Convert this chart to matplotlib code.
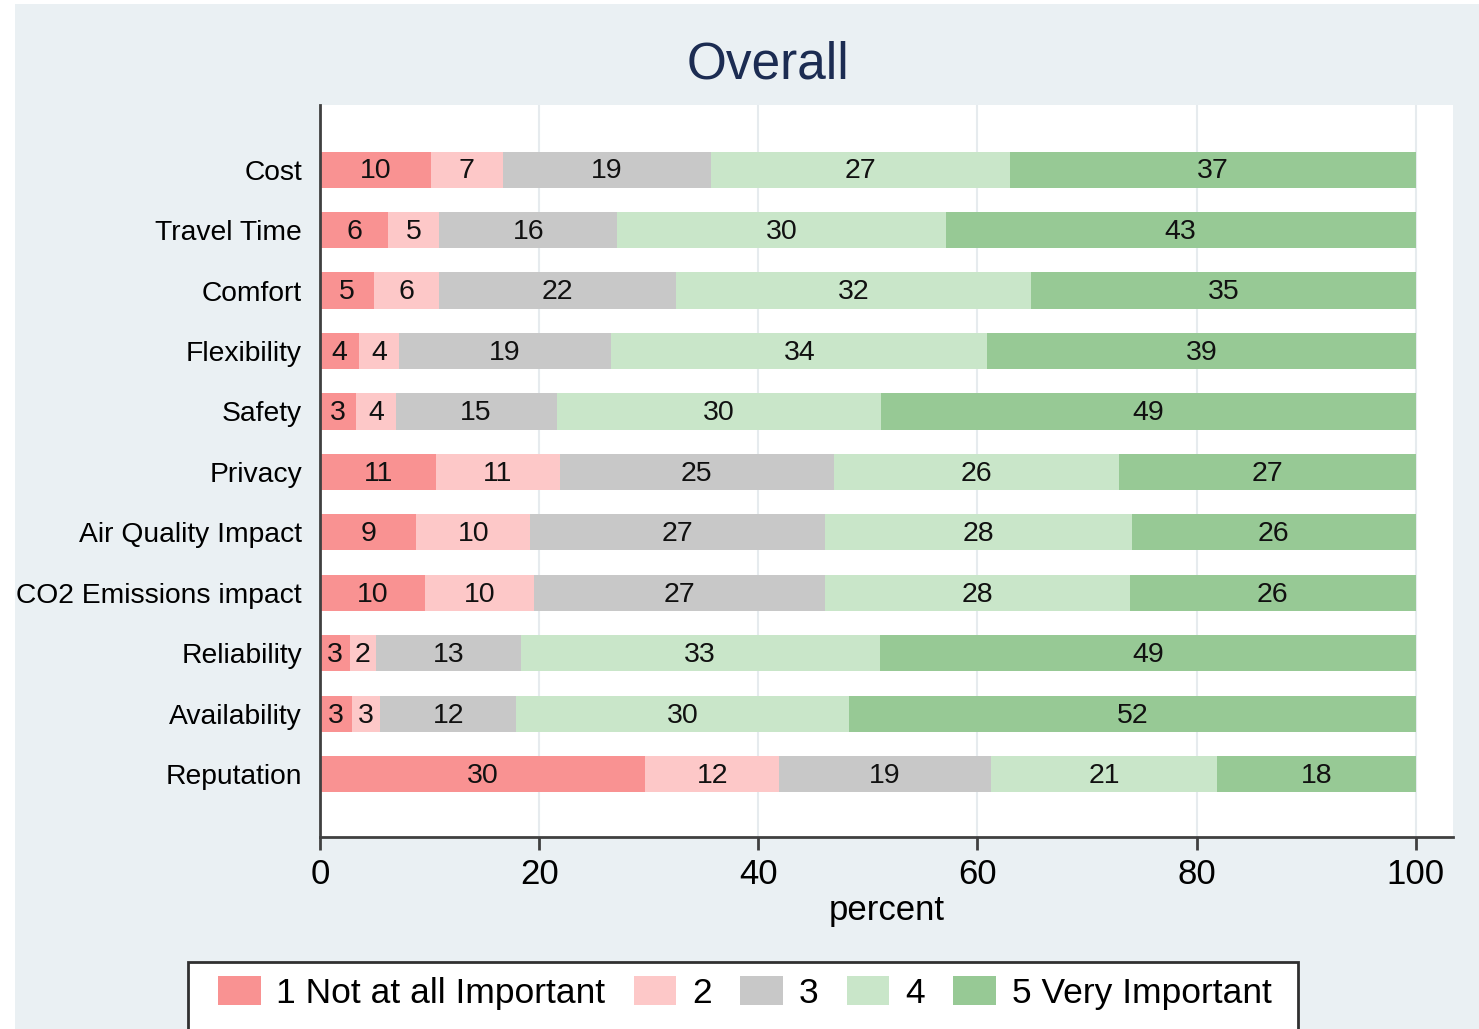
import numpy as np
import matplotlib.pyplot as plt
from matplotlib.patches import Rectangle, Patch

plt.rcParams['font.family'] = ['Liberation Sans', 'DejaVu Sans']

# Data (percent per importance level)
items = ['Cost', 'Travel Time', 'Comfort', 'Flexibility', 'Safety', 'Privacy',
         'Air Quality Impact', 'CO2 Emissions impact', 'Reliability',
         'Availability', 'Reputation']
lvl1 = [10.1, 6.2, 4.9, 3.6, 3.3, 10.6, 8.8, 9.6, 2.7, 2.9, 29.7]
lvl2 = [6.6, 4.7, 6.0, 3.6, 3.6, 11.3, 10.4, 9.9, 2.4, 2.6, 12.2]
lvl3 = [19.0, 16.2, 21.6, 19.4, 14.7, 25.0, 26.9, 26.6, 13.2, 12.4, 19.3]
lvl4 = [27.3, 30.0, 32.4, 34.3, 29.6, 26.0, 28.0, 27.8, 32.8, 30.4, 20.7]
lvl5 = [37.0, 42.9, 35.1, 39.1, 48.8, 27.1, 25.9, 26.1, 48.9, 51.7, 18.1]
levels = ['1 Not at all Important', '2', '3', '4', '5 Very Important']
colors = ['#f99292', '#fdc8c8', '#c8c8c8', '#c9e6c9', '#97c995']

W, H = 1479, 1029
fig = plt.figure(figsize=(W / 100, H / 100), dpi=100, facecolor='white')
# graph region background
fig.patches.append(Rectangle((15 / W, 0), 1, 1 - 4 / H, transform=fig.transFigure,
                             facecolor='#eaf0f3', edgecolor='none', zorder=-10))

ax = fig.add_axes([320 / W, 1 - 837 / H, (1453 - 320) / W, (837 - 105) / H])
ax.set_facecolor('white')

y = np.arange(len(items))
left = np.zeros(len(items))
for vals, c in zip([lvl1, lvl2, lvl3, lvl4, lvl5], colors):
    vals = np.array(vals)
    ax.barh(y, vals, left=left, height=0.6, color=c, edgecolor='none', zorder=2)
    for yi, l, v in zip(y, left, vals):
        ax.text(l + v / 2, yi + 0.03, str(int(round(v))), ha='center', va='center',
                fontsize=20.5, color='#111111', zorder=3)
    left += vals

ax.set_xlim(0, 103.4)
ax.set_ylim(len(items) - 1 + 1.04, -1.07)
ax.set_xticks([0, 20, 40, 60, 80, 100])
ax.set_yticks(y)
ax.set_yticklabels(items, fontsize=20.3)
ax.tick_params(axis='y', length=0, pad=13)
ax.tick_params(axis='x', labelsize=25, length=9, width=2, color='#404040', pad=6)
ax.xaxis.grid(True, color='#e6ebee', linewidth=1.5, zorder=0)
ax.set_axisbelow(True)
for s in ['top', 'right']:
    ax.spines[s].set_visible(False)
for s in ['left', 'bottom']:
    ax.spines[s].set_color('#404040')
    ax.spines[s].set_linewidth(2)
ax.set_xlabel('percent', fontsize=25, labelpad=2)

fig.text(768 / W, 1 - 65 / H, 'Overall', ha='center', va='center',
         fontsize=37, color='#1c2c52')

# legend frame runs off the bottom edge like in the original
fig.patches.append(Rectangle((188 / W, -0.05), (1298 - 188) / W, 0.05 + 1 - 962 / H,
                             transform=fig.transFigure, facecolor='white',
                             edgecolor='#303030', linewidth=2, zorder=1))
handles = [Patch(facecolor=c, edgecolor='none') for c in colors]
leg = fig.legend(handles, levels, loc='center left', ncol=5,
                 bbox_to_anchor=(218 / W, 1 - 993 / H), bbox_transform=fig.transFigure,
                 frameon=False, fontsize=25.5, handlelength=1.2, handleheight=0.9,
                 handletextpad=0.45, columnspacing=0.8, borderpad=0, borderaxespad=0)
leg.set_zorder(5)

fig.savefig('out.png', dpi=100, facecolor=fig.get_facecolor())
